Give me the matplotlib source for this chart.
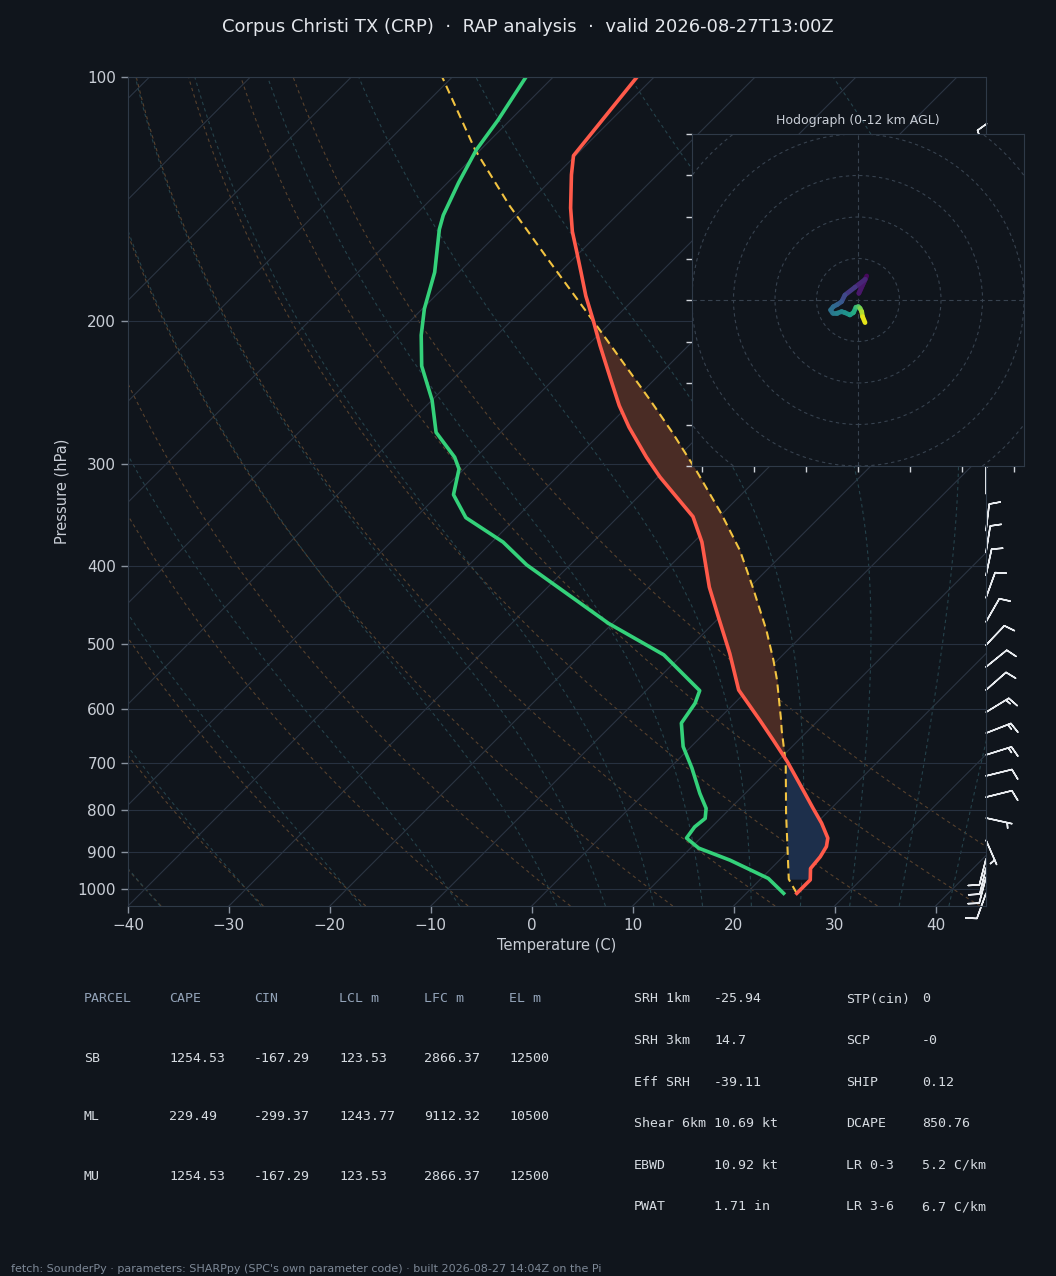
import numpy as np
import matplotlib
matplotlib.use('Agg')
import matplotlib.pyplot as plt
from matplotlib.transforms import Affine2D, blended_transform_factory
from matplotlib.collections import LineCollection
from matplotlib.patches import Circle
from matplotlib.ticker import FixedLocator, NullLocator, FixedFormatter

# ---------------- data ----------------
title = "Corpus Christi TX (CRP)  \u00b7  RAP analysis  \u00b7  valid 2026-08-27T13:00Z"

temp_p = [1013, 975, 944, 913, 887, 866, 830, 796, 742, 697, 656, 620, 569, 513,
          462, 425, 374, 348, 329, 311, 294, 270, 254, 235, 214, 200, 186, 174,
          164, 155, 145, 132, 125, 100]
temp_c = [25.0, 25.0, 23.9, 23.7, 23.3, 22.6, 20.5, 18.2, 14.4, 11.0, 7.5, 4.2, -0.9, -5.4,
          -10.2, -14.0, -19.2, -22.6, -26.2, -29.8, -33.1, -37.8, -40.9, -44.5, -48.8, -51.8, -55.1, -57.9,
          -60.4, -62.8, -65.3, -68.5, -70.2, -71.7]

dewp_p = [1013, 971, 922, 891, 866, 839, 819, 796, 763, 710, 668, 625, 591, 570,
          515, 471, 399, 374, 349, 327, 304, 294, 274, 250, 227, 208, 193, 174,
          154, 148, 135, 123, 113, 100]
dewp_c = [23.7, 20.7, 15.1, 10.8, 8.6, 8.3, 8.5, 7.6, 5.5, 2.2, -0.8, -3.3, -3.9, -4.7,
          -11.8, -20.4, -34.3, -38.9, -45.0, -48.5, -50.5, -52.1, -56.4, -60.0, -64.4, -67.5, -69.8, -72.4,
          -76.2, -77.2, -78.9, -80.4, -81.2, -82.7]

parcel_p = [1013, 973, 807, 700, 637, 620, 553, 523, 480, 425, 383, 345, 305, 274,
            250, 201, 169, 144, 123, 100]
parcel_c = [25.0, 22.8, 16.0, 11.0, 7.3, 6.3, 1.9, -0.4, -4.1, -9.7, -14.6, -20.1, -26.9, -33.0,
            -38.4, -51.5, -62.0, -71.6, -80.5, -91.0]

barb_p = [1013, 968, 943, 919, 871, 818, 771, 726, 684, 643, 606, 569, 533, 501,
          469, 438, 411, 385, 362, 326, 290, 255, 225, 195, 170, 145, 125]
barb_u = [4.2, 2.5, 2.2, 2.4, -2.0, -6.8, -9.7, -9.7, -12.4, -12.1, -11.1, -7.5, -7.8, -6.9,
          -5.0, -3.4, -2.1, -1.6, -1.2, 0.0, 2.0, 3.0, 3.5, 3.0, 2.0, 1.0, 3.0]
barb_v = [11.6, 9.5, 9.2, 9.4, 4.6, 1.5, -2.4, -2.4, -3.9, -4.7, -6.8, -6.6, -6.3, -7.3,
          -8.7, -9.4, -9.8, -9.9, -9.9, -9.0, -8.0, -9.0, -11.0, -10.0, -8.0, -6.0, -9.0]

hodo_z = [0.0, 0.5, 1.0, 1.6, 2.3, 3.0, 3.6, 4.0, 4.3, 4.7, 5.1, 5.4, 5.8, 6.4,
          7.0, 7.8, 8.6, 9.2, 10.2, 11.0, 12.0]
hodo_u = [4.2, 0.4, 3.5, -1.4, -6.3, -7.9, -10.0, -11.9, -13.2, -12.2, -10.3, -7.9, -6.3, -3.9,
          -2.2, -1.0, 0.2, 1.0, 1.8, 2.2, 3.4]
hodo_v = [11.6, 3.2, 10.0, 6.2, 2.4, -0.8, -2.2, -3.2, -4.8, -6.4, -6.4, -5.6, -6.1, -7.2,
          -6.1, -3.5, -3.2, -4.0, -5.6, -8.0, -10.9]

table_header = ['PARCEL', 'CAPE', 'CIN', 'LCL m', 'LFC m', 'EL m']
parcel_names = ['SB', 'ML', 'MU']
cape = [1254.53, 229.49, 1254.53]
cin = [-167.29, -299.37, -167.29]
lcl_m = [123.53, 1243.77, 123.53]
lfc_m = [2866.37, 9112.32, 2866.37]
el_m = [12500, 10500, 12500]

kin_labels = ['SRH 1km', 'SRH 3km', 'Eff SRH', 'Shear 6km', 'EBWD', 'PWAT']
kin_values = ['-25.94', '14.7', '-39.11', '10.69 kt', '10.92 kt', '1.71 in']
idx_labels = ['STP(cin)', 'SCP', 'SHIP', 'DCAPE', 'LR 0-3', 'LR 3-6']
idx_values = ['0', '-0', '0.12', '850.76', '5.2 C/km', '6.7 C/km']

footer = ("fetch: SounderPy \u00b7 parameters: SHARPpy (SPC's own parameter code) "
          "\u00b7 built 2026-08-27 14:04Z on the Pi")

p_ticks = [100, 200, 300, 400, 500, 600, 700, 800, 900, 1000]
t_ticks = [-40, -30, -20, -10, 0, 10, 20, 30, 40]

# ---------------- style ----------------
BG = '#10151c'
GRID = '#273140'
ISO = '#2b3543'
DRY = '#57412d'
MOIST = '#25424b'
TXT = '#c9ced6'
SPINE = '#2f3a48'
RED = '#ff5a4a'
GREEN = '#34d17a'
PARCEL = '#f2c341'
CAPE_C = '#4a2c25'
CIN_C = '#1d2f4b'

W_PX, H_PX = 1056, 1276
fig = plt.figure(figsize=(W_PX / 100, H_PX / 100), dpi=100, facecolor=BG)

ax_l, ax_r, ax_t, ax_b = 128, 986, 77, 906
ax = fig.add_axes([ax_l / W_PX, 1 - ax_b / H_PX, (ax_r - ax_l) / W_PX, (ax_b - ax_t) / H_PX])
ax.set_facecolor(BG)
ax.set_yscale('log')
ax.set_xlim(-40, 45)
ax.set_ylim(1050, 100)
ax.autoscale(False)

w_px = ax_r - ax_l
h_px = ax_b - ax_t
skew = Affine2D().skew(np.arctan(h_px / w_px), 0)
trans = ax.transScale + ax.transLimits + skew + ax.transAxes

# background reference lines
pp = np.geomspace(1050, 100, 200)
for t in range(-170, 50, 10):
    ax.plot([t, t], [1050, 100], transform=trans, color=ISO, lw=0.8, zorder=1)
for t0 in range(-40, 51, 10):
    tt = (t0 + 273.15) * (pp / 1000.0) ** 0.2857 - 273.15
    ax.plot(tt, pp, transform=trans, color=DRY, lw=0.8, ls=(0, (3, 3)), zorder=1)


def moist_line(t0c):
    Rd, Cp, Lv, eps = 287.04, 1005.7, 2.501e6, 0.622

    def f(T, p):
        tc = T - 273.15
        es = 6.112 * np.exp(17.67 * tc / (tc + 243.5))
        rs = eps * es / (p - es)
        return (Rd * T + Lv * rs) / (p * (Cp + Lv ** 2 * rs * eps / (Rd * T ** 2)))

    out = []
    for pend in (100.0, 1050.0):
        step = -1.0 if pend < 1000 else 1.0
        ps = np.arange(1000.0, pend + step * 0.5, step)
        T = t0c + 273.15
        Ts = [T]
        for i in range(len(ps) - 1):
            p = ps[i]
            h = step
            k1 = f(T, p)
            k2 = f(T + 0.5 * h * k1, p + 0.5 * h)
            k3 = f(T + 0.5 * h * k2, p + 0.5 * h)
            k4 = f(T + h * k3, p + h)
            T = T + h / 6 * (k1 + 2 * k2 + 2 * k3 + k4)
            Ts.append(T)
        out.append((ps, np.array(Ts) - 273.15))
    p_all = np.concatenate([out[1][0][::-1], out[0][0][1:]])
    t_all = np.concatenate([out[1][1][::-1], out[0][1][1:]])
    return p_all, t_all


for t0 in [-40, -30, -20, -10, 0, 5, 10, 15, 20, 25, 30, 35, 40, 45]:
    mp, mt = moist_line(float(t0))
    ax.plot(mt, mp, transform=trans, color=MOIST, lw=0.8, ls=(0, (3, 3)), zorder=1)

for p in p_ticks:
    ax.axhline(p, color=GRID, lw=0.8, zorder=1.5)

# CAPE / CIN shading
pf = np.geomspace(973, 201, 400)
lp_t = np.log(np.array(temp_p[::-1], float))
lp_pa = np.log(np.array(parcel_p[::-1], float))
t_i = np.interp(np.log(pf), lp_t, np.array(temp_c[::-1], float))
pa_i = np.interp(np.log(pf), lp_pa, np.array(parcel_c[::-1], float))
ax.fill_betweenx(pf, t_i, pa_i, where=pa_i >= t_i, interpolate=True,
                 transform=trans, color=CAPE_C, lw=0, zorder=2)
ax.fill_betweenx(pf, t_i, pa_i, where=pa_i <= t_i, interpolate=True,
                 transform=trans, color=CIN_C, lw=0, zorder=2)

ax.plot(parcel_c, parcel_p, transform=trans, color=PARCEL, lw=1.5, ls=(0, (4, 2.5)), zorder=4)
ax.plot(temp_c, temp_p, transform=trans, color=RED, lw=2.6, zorder=5, solid_joinstyle='round')
ax.plot(dewp_c, dewp_p, transform=trans, color=GREEN, lw=2.6, zorder=5, solid_joinstyle='round')

# wind barbs on the right edge
bt = blended_transform_factory(ax.transAxes, ax.transData)
ax.barbs(np.ones(len(barb_p)), barb_p, barb_u, barb_v, transform=bt, length=6.2,
         color='#e8ebef', linewidth=1.1, clip_on=False, zorder=6)

ax.yaxis.set_major_locator(FixedLocator(p_ticks))
ax.yaxis.set_major_formatter(FixedFormatter([str(p) for p in p_ticks]))
ax.yaxis.set_minor_locator(NullLocator())
ax.xaxis.set_major_locator(FixedLocator(t_ticks))
ax.tick_params(colors=TXT, labelsize=11, length=5, width=1)
ax.tick_params(axis='both', color='#8a93a0')
for s in ax.spines.values():
    s.set_color(SPINE)
    s.set_zorder(7)
ax.set_xlabel('Temperature (C)', color=TXT, fontsize=10.5, labelpad=4)
ax.set_ylabel('Pressure (hPa)', color=TXT, fontsize=10.5, labelpad=6)

fig.text(0.5, 1 - 27 / H_PX, title, ha='center', va='center', fontsize=13, color='#e4e7ec')

# hodograph inset
hx0, hy0, hs = 692, 134, 332
axh = fig.add_axes([hx0 / W_PX, 1 - (hy0 + hs) / H_PX, hs / W_PX, hs / H_PX])
axh.set_facecolor(BG)
axh.set_xlim(-80, 80)
axh.set_ylim(-80, 80)
for r in range(20, 141, 20):
    axh.add_patch(Circle((0, 0), r, fill=False, ls=(0, (3, 3)), color='#37424f', lw=0.8))
axh.axhline(0, color='#37424f', lw=0.8, ls=(0, (4, 3)))
axh.axvline(0, color='#37424f', lw=0.8, ls=(0, (4, 3)))
pts = np.column_stack([hodo_u, hodo_v])
segs = np.stack([pts[:-1], pts[1:]], axis=1)
zmid = 0.5 * (np.array(hodo_z[:-1]) + np.array(hodo_z[1:]))
lc = LineCollection(segs, cmap='viridis', norm=plt.Normalize(0, 12), linewidths=3.4,
                    capstyle='round', joinstyle='round')
lc.set_array(zmid)
axh.add_collection(lc)
axh.xaxis.set_major_locator(FixedLocator([-75, -50, -25, 0, 25, 50, 75]))
axh.yaxis.set_major_locator(FixedLocator(list(range(-80, 81, 20))))
axh.tick_params(labelleft=False, labelbottom=False, color='#d0d4da', length=4, width=1)
for s in axh.spines.values():
    s.set_color(SPINE)
axh.set_title('Hodograph (0-12 km AGL)', color=TXT, fontsize=9, pad=7)

# table
mono = 'DejaVu Sans Mono'
HEAD = '#93a3b8'
VAL = '#d6dbe1'
col_x = [84, 169, 254, 339, 424, 509]
for c, h in enumerate(table_header):
    fig.text(col_x[c] / W_PX, 1 - 999 / H_PX, h, family=mono, fontsize=9.5, color=HEAD, va='center')
for r in range(3):
    y = 1058 + 59 * r
    row = [parcel_names[r], str(cape[r]), str(cin[r]), str(lcl_m[r]), str(lfc_m[r]), str(el_m[r])]
    for c, v in enumerate(row):
        fig.text(col_x[c] / W_PX, 1 - y / H_PX, v, family=mono, fontsize=9.5, color=VAL, va='center')
for r in range(6):
    y = 999 + 41.6 * r
    fig.text(634 / W_PX, 1 - y / H_PX, kin_labels[r], family=mono, fontsize=9.5, color=VAL, va='center')
    fig.text(714 / W_PX, 1 - y / H_PX, kin_values[r], family=mono, fontsize=9.5, color=VAL, va='center')
    fig.text(846 / W_PX, 1 - y / H_PX, idx_labels[r], family=mono, fontsize=9.5, color=VAL, va='center')
    fig.text(922 / W_PX, 1 - y / H_PX, idx_values[r], family=mono, fontsize=9.5, color=VAL, va='center')

fig.text(11 / W_PX, 1 - 1269 / H_PX, footer, fontsize=8, color='#7d8896', va='center')

fig.savefig('out.png', dpi=100, facecolor=BG)
